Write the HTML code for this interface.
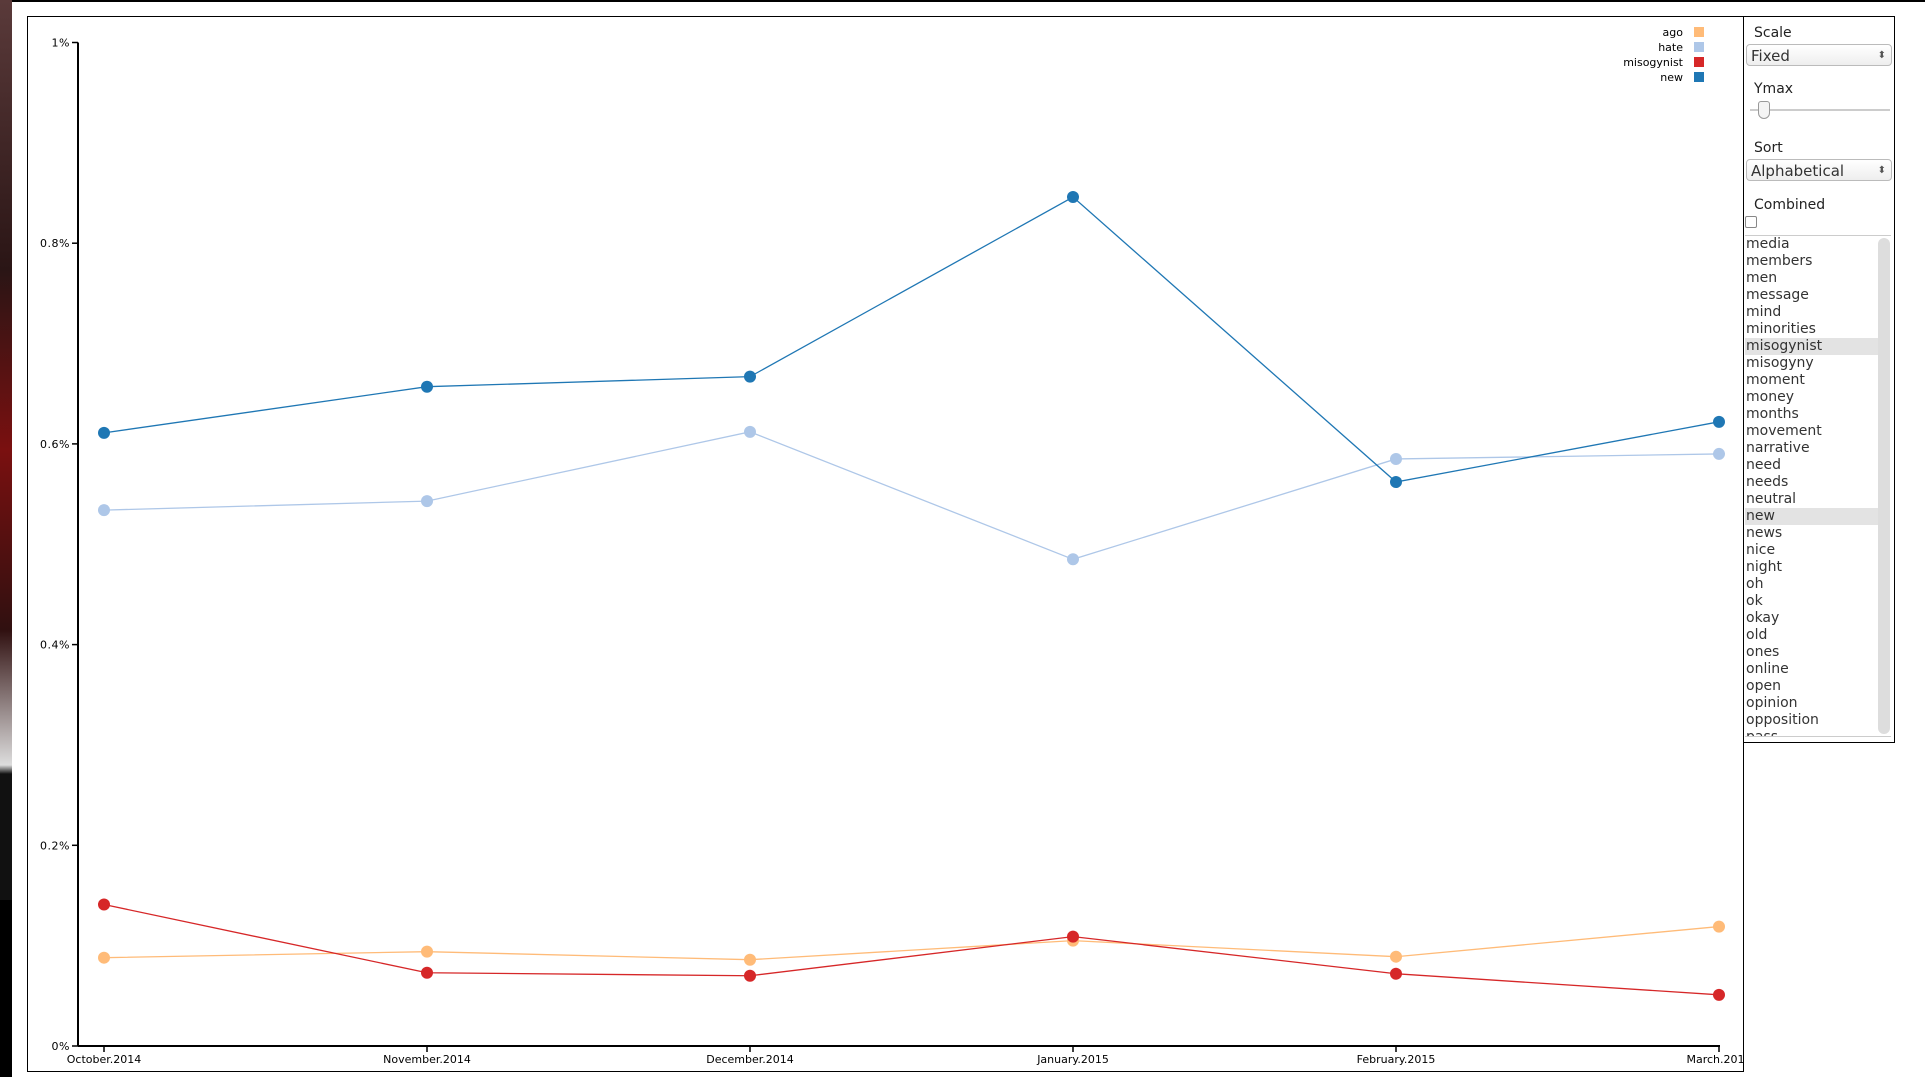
<!DOCTYPE html>
<html><head><meta charset="utf-8"><style>
body{margin:0;width:1925px;height:1077px;background:#fff;position:relative;overflow:hidden;font-family:"DejaVu Sans","Liberation Sans",sans-serif}
#topline{position:absolute;left:0;top:0;width:1925px;height:2px;background:#000}
#leftimg{position:absolute;left:0;top:0;width:12px;height:900px;background:linear-gradient(#5a3a3a,#2a1515 30%,#7a1010 50%,#301010 70%,#ddd 85%,#111 86%)}
#leftimg2{position:absolute;left:0;top:900px;width:12px;height:177px;background:#000}
#chart{position:absolute;left:27px;top:16px;width:1715px;height:1054px;border:1px solid #000;overflow:hidden}
#side{position:absolute;left:1743px;top:16px;width:150px;height:725px;border:1px solid #000;font-size:14px;color:#222}
.lbl{position:absolute;left:10px;line-height:18px}
.sel{position:absolute;left:2px;width:146px;height:22px;border:1px solid #bbb;border-radius:4px;background:linear-gradient(#fff,#eee);font-size:15px;line-height:22px;padding-left:4px;box-sizing:border-box;color:#333}
.sel:after{content:"⬍";position:absolute;right:5px;top:0;font-size:10px;color:#555}
#list{position:absolute;left:1px;top:218px;width:146px;height:500px;border-top:1px solid #ccc;border-bottom:1px solid #ccc;overflow:hidden;font-family:"DejaVu Sans",sans-serif;font-size:14px;color:#333}
#list .row{height:17px;line-height:17px;padding-left:1px;width:134px}
#list .hl{background:#e3e3e3}
#sb{position:absolute;right:1px;top:2px;width:12px;height:496px;background:#ddd;border-radius:6px}
</style></head><body>
<div id="topline"></div>
<div id="leftimg"></div>
<div id="leftimg2"></div>
<div id="chart">
<svg id="svg" width="1715" height="1054" style="position:absolute;left:0;top:0"></svg>
</div>
<div id="side">
<div class="lbl" style="top:7px">Scale</div>
<div class="sel" style="top:27px">Fixed</div>
<div class="lbl" style="top:63px">Ymax</div>
<div style="position:absolute;left:6px;top:92px;width:140px;height:2px;background:#ccc"></div>
<div style="position:absolute;left:14px;top:84px;width:10px;height:16px;border:1px solid #999;border-radius:3px 3px 6px 6px;background:#f4f4f4"></div>
<div class="lbl" style="top:122px">Sort</div>
<div class="sel" style="top:142px">Alphabetical</div>
<div class="lbl" style="top:179px">Combined</div>
<div style="position:absolute;left:1px;top:199px;width:10px;height:10px;border:1px solid #888;border-radius:2px"></div>
<div id="list"><div id="sb"></div></div>
</div>
<script>
const categories=["October.2014","November.2014","December.2014","January.2015","February.2015","March.2015"];
const seriesNames=["ago","hate","misogynist","new"];
const agoVals=[0.088,0.094,0.086,0.105,0.089,0.119];
const hateVals=[0.534,0.543,0.612,0.485,0.585,0.590];
const misVals=[0.141,0.073,0.070,0.109,0.072,0.051];
const newVals=[0.611,0.657,0.667,0.846,0.562,0.622];
const yTicks=[0,0.2,0.4,0.6,0.8,1];
const yTickLabels=["0%","0.2%","0.4%","0.6%","0.8%","1%"];
const colors=["#ffbb78","#aec7e8","#d62728","#1f77b4"];
const words=["media","members","men","message","mind","minorities","misogynist","misogyny","moment","money","months","movement","narrative","need","needs","neutral","new","news","nice","night","oh","ok","okay","old","ones","online","open","opinion","opposition","pass"];
const NS="http://www.w3.org/2000/svg",svg=document.getElementById('svg');
const ox=27,oy=16;
const x=i=>103-ox+i*(1718-103)/(categories.length-1);
const y=v=>1045-oy-v*(1045-41.5);
function mk(t,a){const e=document.createElementNS(NS,t);for(const k in a)e.setAttribute(k,a[k]);svg.appendChild(e);return e;}
let e=mk('line',{x1:77-ox,x2:77-ox,y1:y(1),y2:y(0),stroke:'#000','stroke-width':2});

e=mk('line',{x1:77-ox,x2:x(5)+1,y1:y(0),y2:y(0),stroke:'#000','stroke-width':2});

yTicks.forEach((t,i)=>{mk('line',{x1:71-ox,x2:77-ox,y1:y(t),y2:y(t),stroke:'#000','stroke-width':1.5});
 const tx=mk('text',{x:69-ox,y:y(t)+4,'text-anchor':'end','font-size':11,fill:'#000','letter-spacing':'0.5'});tx.textContent=yTickLabels[i];
 });
categories.forEach((c,i)=>{mk('line',{x1:x(i),x2:x(i),y1:y(0),y2:y(0)+6,stroke:'#000','stroke-width':1.5});
 const tx=mk('text',{x:x(i),y:1062-oy,'text-anchor':'middle','font-size':11,fill:'#000'});tx.textContent=c;
 });
[agoVals,hateVals,misVals,newVals].forEach((vals,s)=>{
 const p=mk('polyline',{points:vals.map((v,i)=>x(i)+','+y(v)).join(' '),fill:'none',stroke:colors[s],'stroke-width':1.3});
 
 vals.forEach((v,i)=>{const c=mk('circle',{cx:x(i),cy:y(v),r:6,fill:colors[s]});
  });
});
seriesNames.forEach((n,i)=>{const ly=31-oy+i*15;
 const t=mk('text',{x:1682-ox,y:ly+4,'text-anchor':'end','font-size':11,fill:'#000'});t.textContent=n;
 
 const r=mk('rect',{x:1693-ox,y:ly-5,width:10,height:10,fill:colors[i]});
 });
const list=document.getElementById('list');
words.forEach(w=>{const d=document.createElement('div');d.textContent=w;
 d.className=(w==='misogynist'||w==='new')?'row hl':'row';
 
 
 list.insertBefore(d,document.getElementById('sb'));});
</script>
</body></html>
